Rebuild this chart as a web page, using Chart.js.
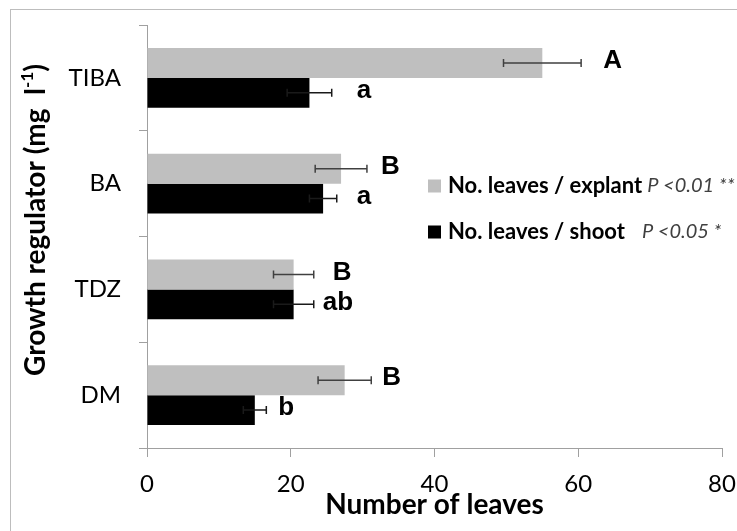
<!DOCTYPE html>
<html>
<head>
<meta charset="utf-8">
<script src="https://cdn.jsdelivr.net/npm/chart.js@4"></script>
<style>
  html, body { margin: 0; padding: 0; background: #fff; }
  #chart { display: block; }
</style>
</head>
<body>
<canvas id="chart" width="737" height="531"></canvas>
<script>
// Data
const regulators = ['TIBA', 'BA', 'TDZ', 'DM'];
const leavesPerExplant = [55.0, 27.0, 20.4, 27.5];
const leavesPerExplantErr = [5.4, 3.6, 2.8, 3.7];
const leavesPerShoot = [22.6, 24.5, 20.4, 15.0];
const leavesPerShootErr = [3.1, 1.9, 2.8, 1.6];
const explantLetters = ['A', 'B', 'B', 'B'];
const shootLetters = ['a', 'a', 'ab', 'b'];
const seriesNames = ['No. leaves / explant', 'No. leaves / shoot'];
const pValues = ['P <0.01 **', 'P <0.05 *'];
const xTicks = [0, 20, 40, 60, 80];

// Layout bits (pixel gaps for the significance letters, legend placement)
const letterGaps = [[22, 14, 19, 11], [25, 20, 9, 12]];
const legendBox = { x: 428, rows: [186, 232], size: 13, textX: 448, pGaps: [5, 17] };

const AXIS_GREY = '#a0a0a0';
const FONT = 'Lato, "Open Sans", sans-serif';

const frame = {
    id: 'frame',
    beforeDraw(chart) {
        const ctx = chart.ctx;
        ctx.save();
        ctx.strokeStyle = '#bdbdbd';
        ctx.lineWidth = 1;
        ctx.strokeRect(10.5, 9.5, 900, 700);
        ctx.restore();
    }
};

const errorBars = {
    id: 'errorBars',
    afterDatasetsDraw(chart) {
        const ctx = chart.ctx;
        const xs = chart.scales.x;
        ctx.save();
        ctx.lineWidth = 1.5;
        chart.data.datasets.forEach((ds, i) => {
            const meta = chart.getDatasetMeta(i);
            meta.data.forEach((bar, j) => {
                const v = ds.data[j];
                const e = ds.errors[j];
                const x0 = xs.getPixelForValue(v - e);
                const x1 = xs.getPixelForValue(v + e);
                const y = bar.y;
                ctx.strokeStyle = i === 0 ? '#404040' : '#1a1a1a';
                ctx.beginPath();
                ctx.moveTo(x0, y); ctx.lineTo(x1, y);
                ctx.moveTo(x0, y - 4); ctx.lineTo(x0, y + 4);
                ctx.moveTo(x1, y - 4); ctx.lineTo(x1, y + 4);
                ctx.stroke();

                // significance letter
                ctx.fillStyle = '#000';
                ctx.font = 'bold 26px "Liberation Sans", Arial, sans-serif';
                ctx.textAlign = 'left';
                ctx.textBaseline = 'middle';
                ctx.fillText(ds.letters[j], x1 + letterGaps[i][j], y - 2);
            });
        });
        ctx.restore();
    }
};

const sideLegend = {
    id: 'sideLegend',
    afterDraw(chart) {
        const ctx = chart.ctx;
        ctx.save();
        ctx.textAlign = 'left';
        ctx.textBaseline = 'middle';
        chart.data.datasets.forEach((ds, i) => {
            const y = legendBox.rows[i];
            ctx.fillStyle = ds.backgroundColor;
            ctx.fillRect(legendBox.x, y - legendBox.size / 2, legendBox.size, legendBox.size);
            ctx.fillStyle = '#000';
            ctx.font = 'bold 22px ' + FONT;
            ctx.fillText(ds.label, legendBox.textX, y);
            const w = ctx.measureText(ds.label).width;
            ctx.fillStyle = '#404040';
            ctx.font = 'italic 20px ' + FONT;
            ctx.fillText(pValues[i], legendBox.textX + w + legendBox.pGaps[i], y);
        });
        ctx.restore();
    }
};

const yTitle = {
    id: 'yTitle',
    afterDraw(chart) {
        const ctx = chart.ctx;
        const parts = [
            { t: 'Growth regulator (mg  l', f: 'bold 28px ' + FONT, dy: 0 },
            { t: '-1', f: 'bold 17px ' + FONT, dy: -8 },
            { t: ')', f: 'bold 28px ' + FONT, dy: 0 }
        ];
        ctx.save();
        ctx.translate(36, 220);
        ctx.rotate(-Math.PI / 2);
        ctx.fillStyle = '#000';
        ctx.textAlign = 'left';
        ctx.textBaseline = 'middle';
        let total = 0;
        parts.forEach(p => { ctx.font = p.f; total += ctx.measureText(p.t).width; });
        let x = -total / 2;
        parts.forEach(p => {
            ctx.font = p.f;
            ctx.fillText(p.t, x, p.dy);
            x += ctx.measureText(p.t).width;
        });
        ctx.restore();
    }
};

new Chart(document.getElementById('chart'), {
    type: 'bar',
    data: {
        labels: regulators,
        datasets: [{
            label: seriesNames[0],
            data: leavesPerExplant,
            errors: leavesPerExplantErr,
            letters: explantLetters,
            backgroundColor: '#bfbfbf'
        }, {
            label: seriesNames[1],
            data: leavesPerShoot,
            errors: leavesPerShootErr,
            letters: shootLetters,
            backgroundColor: '#000000'
        }]
    },
    options: {
        indexAxis: 'y',
        responsive: false,
        animation: false,
        categoryPercentage: 0.566,
        barPercentage: 1,
        layout: { padding: { top: 25, right: 15, left: 0, bottom: 0 } },
        plugins: {
            legend: { display: false },
            tooltip: { enabled: false }
        },
        scales: {
            x: {
                min: 0,
                max: 80,
                afterBuildTicks(scale) {
                    scale.ticks = xTicks.map(v => ({ value: v }));
                },
                afterFit(scale) {
                    scale.height = 83;
                    scale.paddingLeft = 0;
                    scale.paddingRight = 0;
                },
                grid: { drawOnChartArea: false, color: AXIS_GREY, tickLength: 9 },
                border: { color: AXIS_GREY },
                ticks: { color: '#000', padding: 13, font: { family: FONT, size: 24 } },
                title: {
                    display: true,
                    text: 'Number of leaves',
                    color: '#000',
                    padding: { top: 0, bottom: 9 },
                    font: { family: FONT, size: 28, weight: 'bold' }
                }
            },
            y: {
                afterFit(scale) {
                    scale.width = 147;
                    scale.paddingTop = 0;
                    scale.paddingBottom = 0;
                },
                grid: { drawOnChartArea: false, color: AXIS_GREY, tickLength: 8, offset: true },
                border: { color: AXIS_GREY },
                ticks: { color: '#000', padding: 18, font: { family: FONT, size: 24 } }
            }
        }
    },
    plugins: [frame, errorBars, sideLegend, yTitle]
});
</script>
</body>
</html>
